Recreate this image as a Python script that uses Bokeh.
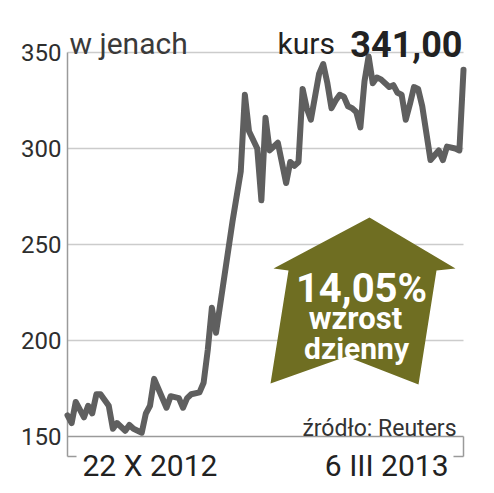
from bokeh.plotting import figure
from bokeh.models import Range1d, FixedTicker, Label
from bokeh.core.properties import value
from bokeh.embed import file_html
from bokeh.resources import INLINE

# ---- data (trading-day index, closing price in JPY) ----
day = [0, 1, 2, 4, 5, 6, 7, 8, 10, 11, 12, 14, 15, 16, 18, 19, 20, 21, 22, 24,
       25, 27, 28, 29, 30, 32, 33, 34, 35, 36, 40, 42, 43, 44, 46, 47, 48, 49,
       51, 53, 54, 55, 56, 57, 58, 59, 61, 62, 63, 64, 65, 66, 67, 68, 69, 70,
       71, 72, 73, 74, 75, 76, 78, 79, 80, 81, 82, 83, 84, 85, 86, 88, 90, 91,
       92, 94, 95, 96]
price = [161, 157, 168, 160, 166, 162, 172, 172, 166, 154, 157, 153, 156, 154, 152, 162, 166, 180, 175, 165,
         171, 170, 165, 170, 172, 173, 178, 195, 217, 204, 262, 288, 328, 309, 300, 273, 316, 299,
         303, 282, 293, 291, 293, 331, 321, 315, 339, 344, 334, 321, 325, 328, 327, 322, 321, 319,
         311, 335, 348, 334, 337, 336, 332, 333, 329, 328, 315, 323, 332, 331, 322, 294, 299, 294,
         301, 300, 299, 341]
y_ticks = [150, 200, 250, 300, 350]
date_labels = ["22 X 2012", "6 III 2013"]
unit_label = "w jenach"
kurs_label = "kurs"
kurs_value = "341,00"
change_lines = ["14,05%", "wzrost", "dzienny"]
source_label = "źródło: Reuters"

# ---- layout: page-pixel mapping ----
OFF = 0
W, H = 478, 485
BL, BR, BT, BB = 61, 6, 4, 0
PX_DAY = 4.125          # px per trading day
PX_UNIT = 1.92          # px per yen
X0, Y0 = 67, 436        # page px of (first day, 150)

def X(px):
    return day[0] + (px - X0) / PX_DAY

def Y(py):
    return y_ticks[0] + (Y0 - py) / PX_UNIT

x_range = Range1d(X(OFF + BL), X(OFF + W - BR))
y_range = Range1d(Y(OFF + H - BB), Y(OFF + BT))

p = figure(width=W, height=H, x_range=x_range, y_range=y_range,
           output_backend="svg", toolbar_location=None, x_axis_location=None,
           min_border_left=BL, min_border_right=BR, min_border_top=BT, min_border_bottom=BB,
           background_fill_color="white", border_fill_color="white")
p.outline_line_color = None
p.grid.visible = False

ax = p.yaxis[0]
ax.ticker = FixedTicker(ticks=y_ticks)
ax.axis_line_color = None
ax.major_tick_line_color = None
ax.minor_tick_line_color = None
ax.major_tick_in = 0
ax.major_tick_out = 0
ax.major_label_standoff = 0
ax.major_label_text_font = "Roboto"
ax.major_label_text_font_size = "24px"
ax.major_label_text_color = "#2e2e2e"

first, last = day[0], day[-1]
ybr = Y(456)
# grid lines
p.segment(x0=[first] * 4, y0=y_ticks[1:], x1=[last] * 4, y1=y_ticks[1:],
          line_color="#cccccc", line_width=1.5)
# axis frame / bracket
p.segment(x0=[first, first, last, first, X(453)],
          y0=[y_ticks[-1], ybr, y_ticks[0], y_ticks[0], ybr],
          x1=[first, X(76), last, last, last],
          y1=[ybr, ybr, ybr, y_ticks[0], ybr],
          line_color="#9a9a9a", line_width=1.5)

# price line
p.line(day, price, line_color="#5f5f5f", line_width=6, line_join="round", line_cap="round")

# arrow
ax_px = [369, 455, 436, 418, 346, 270, 288, 273]
ay_px = [217, 268, 270, 384, 356, 383, 270, 268]
p.patch([X(v) for v in ax_px], [Y(v) for v in ay_px], fill_color="#6f6e22", line_color=None)

F = value("Roboto")
p.text(x=[X(361), X(355), X(356)], y=[Y(288), Y(318), Y(348)], text=change_lines,
       text_font=F, text_font_style="bold", text_color="white",
       text_font_size=["40px", "31px", "30px"], text_align="center", text_baseline="alphabetic")

# header
p.text(x=[X(69)], y=[Y(43)], text=[unit_label], text_font=F, text_font_size="30px",
       text_color="#3a3a3a", text_align="left", text_baseline="alphabetic")
p.text(x=[X(277)], y=[Y(43)], text=[kurs_label], text_font=F, text_font_size="30px",
       text_color="#222222", text_align="left", text_baseline="alphabetic")
p.text(x=[X(462)], y=[Y(43)], text=[kurs_value], text_font=F, text_font_style="bold",
       text_font_size="36px", text_color="#222222", text_align="right", text_baseline="alphabetic")

# source
p.text(x=[X(456)], y=[Y(428)], text=[source_label], text_font=F, text_font_size="23px",
       text_color="#333333", text_align="right", text_baseline="alphabetic")

# date labels
for txt, px, align in [(date_labels[0], 82, "left"), (date_labels[1], 448, "right")]:
    p.add_layout(Label(x=X(px), y=Y(465), text=txt, text_font="Roboto", text_font_size="30px",
                       text_color="#222222", text_align=align, text_baseline="alphabetic"))

open("out.html", "w").write(file_html(p, INLINE))
